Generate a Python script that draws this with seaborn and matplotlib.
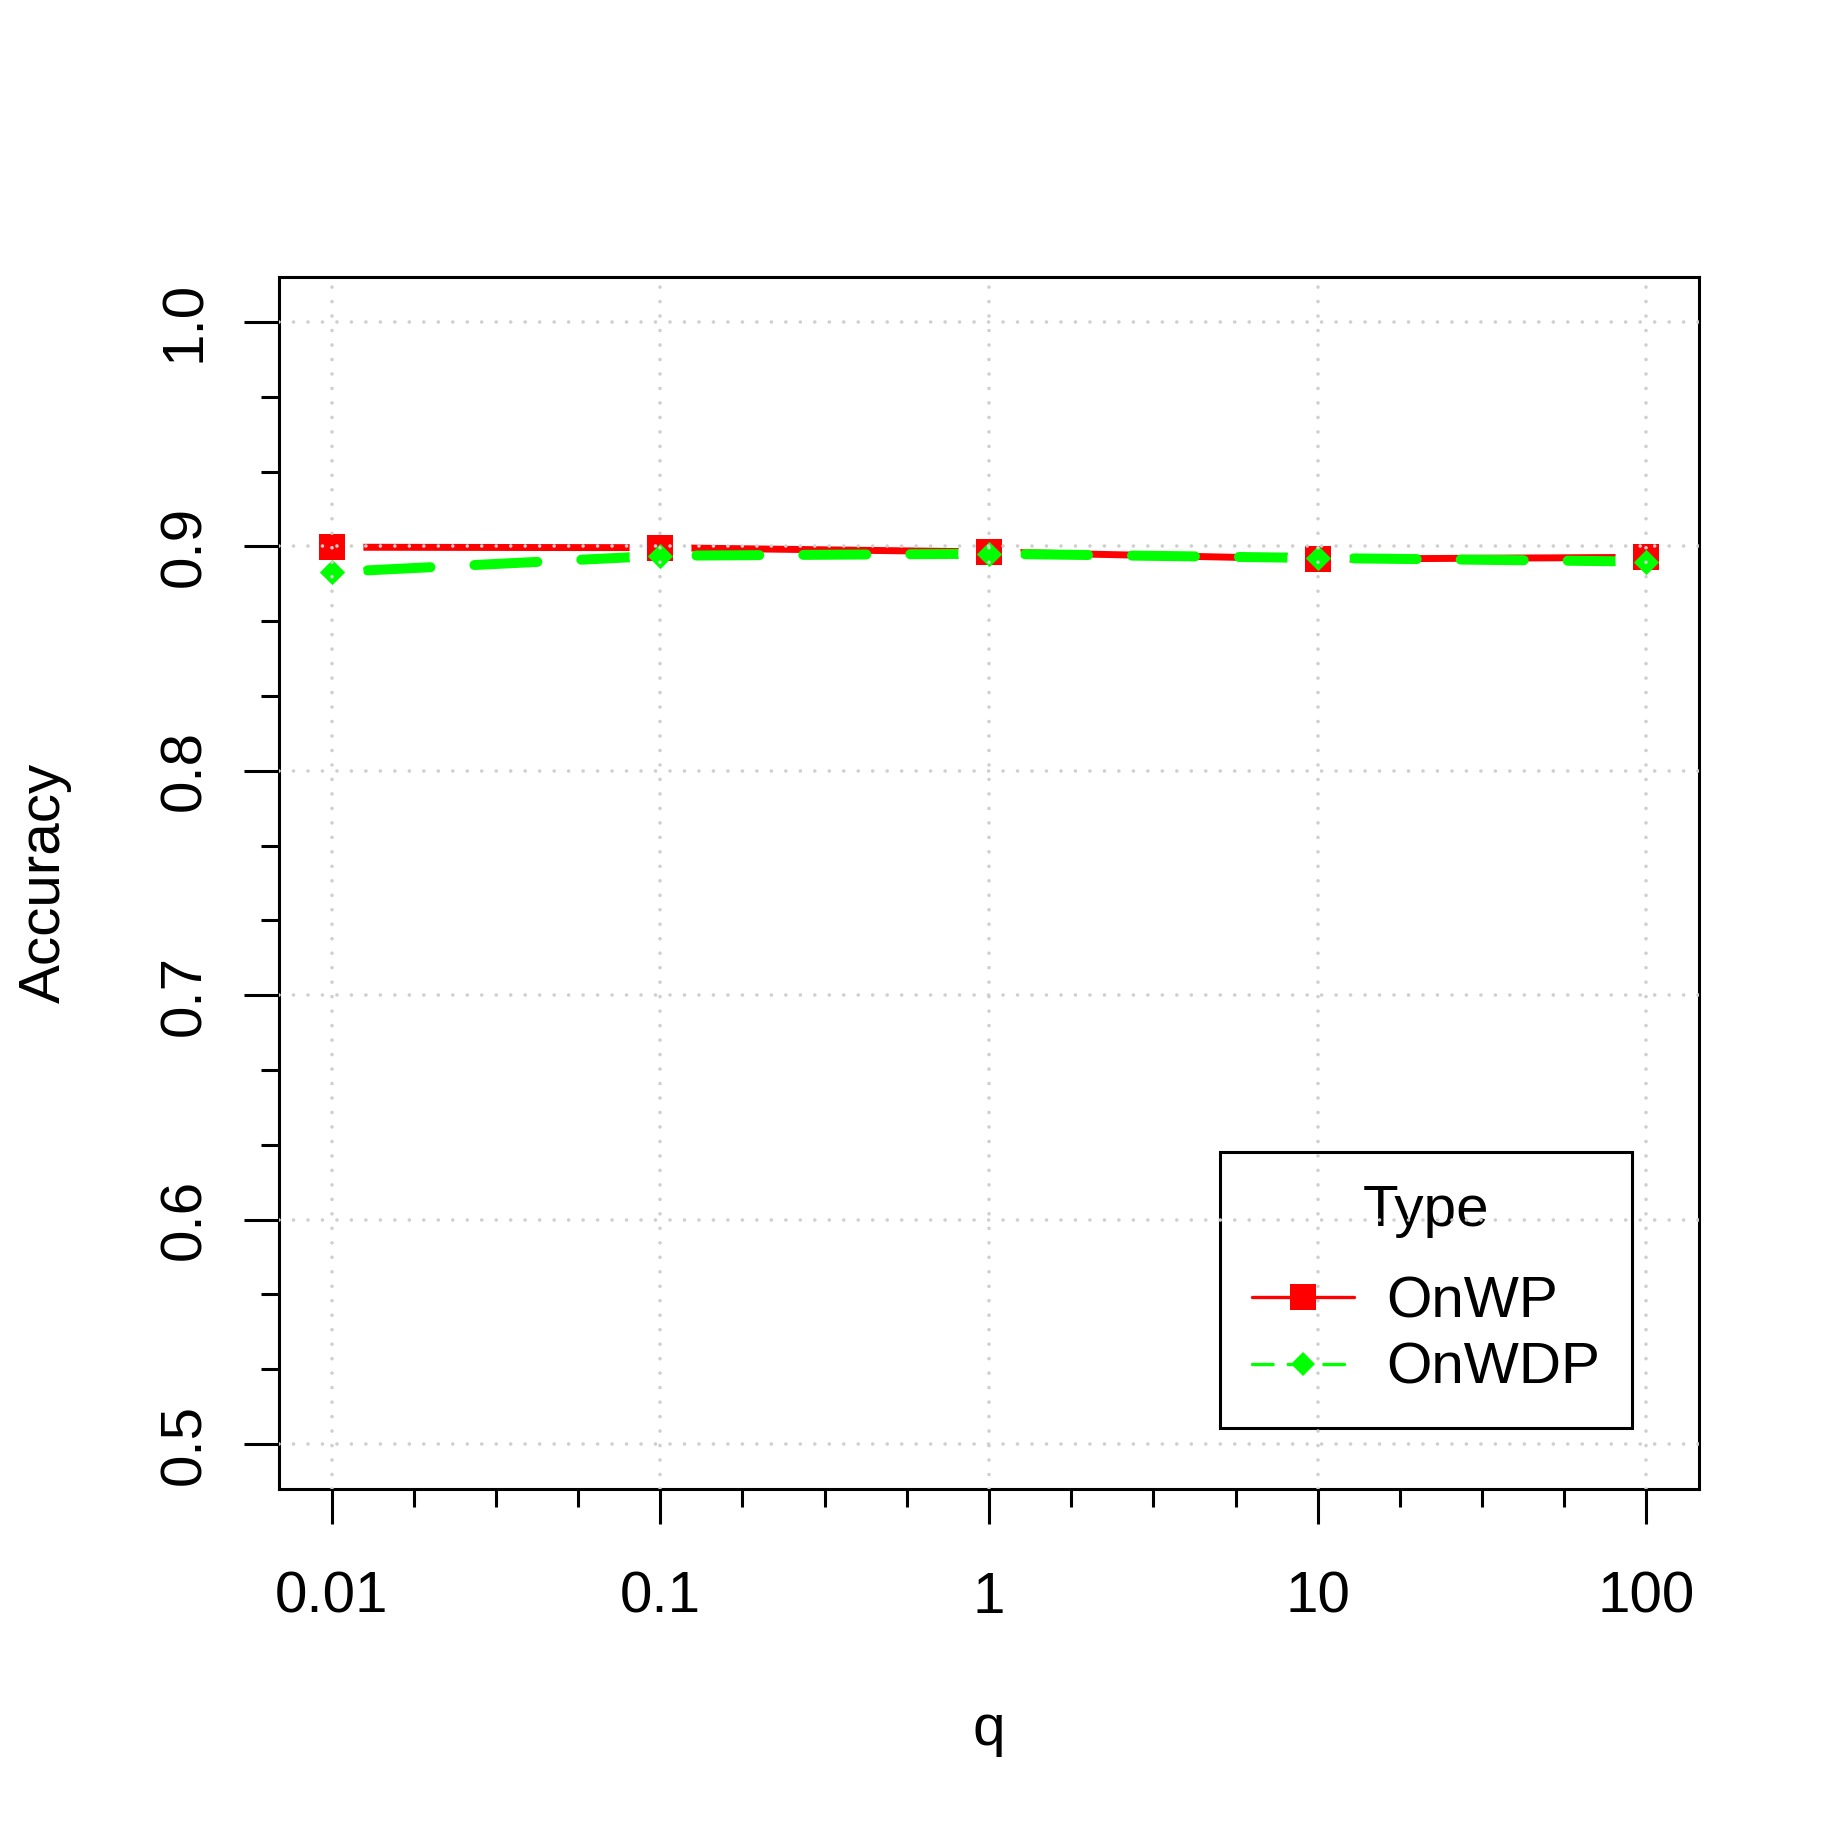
import numpy as np
import pandas as pd
import matplotlib
matplotlib.use("Agg")
import matplotlib.pyplot as plt
import seaborn as sns
from matplotlib.lines import Line2D
from matplotlib.ticker import FixedLocator, NullFormatter

# ---------------- data ----------------
q_values = [0.01, 0.1, 1, 10, 100]
q_labels = ["0.01", "0.1", "1", "10", "100"]
onwp = [0.8996, 0.8994, 0.8975, 0.8943, 0.8951]
onwdp = [0.8885, 0.8958, 0.8967, 0.8948, 0.8932]
series_names = ["OnWP", "OnWDP"]
y_ticks = [0.5, 0.6, 0.7, 0.8, 0.9, 1.0]
y_tick_labels = ["0.5", "0.6", "0.7", "0.8", "0.9", "1.0"]
x_label = "q"
y_label = "Accuracy"
legend_title = "Type"

RED = "#ff0000"
GREEN = "#00ff00"
GRID = "#cfcfcf"

sns.set_style("ticks")
plt.rcParams["font.family"] = ["Liberation Sans", "DejaVu Sans"]
plt.rcParams["text.color"] = "black"
plt.rcParams["axes.labelcolor"] = "black"
plt.rcParams["xtick.color"] = "black"
plt.rcParams["ytick.color"] = "black"
plt.rcParams["axes.edgecolor"] = "black"

# segment table (each consecutive pair is one segment, like R type="b")
rows = []
for name, vals in zip(series_names, [onwp, onwdp]):
    for i in range(len(q_values) - 1):
        rows.append((name, i, q_values[i], vals[i]))
        rows.append((name, i, q_values[i + 1], vals[i + 1]))
seg = pd.DataFrame(rows, columns=["Type", "seg", "q", "acc"])
pts = pd.DataFrame({"q": q_values * 2, "acc": onwp + onwdp,
                    "Type": [series_names[0]] * 5 + [series_names[1]] * 5})

fig = plt.figure(figsize=(18.41, 18.36), dpi=100)
ax = fig.add_axes([279 / 1841, 1 - 1489 / 1836, 1420 / 1841, 1212 / 1836])
ax.set_xscale("log")

# lines
sns.lineplot(data=seg[seg.Type == "OnWP"], x="q", y="acc", units="seg",
             estimator=None, color=RED, lw=5.0, solid_capstyle="round",
             ax=ax, legend=False, zorder=2)
sns.lineplot(data=seg[seg.Type == "OnWDP"], x="q", y="acc", units="seg",
             estimator=None, color=GREEN, lw=7.2,
             linestyle=(7.1, (6.3, 4.4)), dash_capstyle="round",
             ax=ax, legend=False, zorder=2.1)
# gaps around points (R type="b")
sns.scatterplot(data=pts, x="q", y="acc", s=1990, color="white",
                linewidth=0, ax=ax, legend=False, zorder=3)
# markers
sns.scatterplot(data=pts[pts.Type == "OnWP"], x="q", y="acc", marker="s",
                s=350, color=RED, linewidth=0, ax=ax, legend=False, zorder=4)
sns.scatterplot(data=pts[pts.Type == "OnWDP"], x="q", y="acc", marker="D",
                s=165, color=GREEN, linewidth=0, ax=ax, legend=False, zorder=4.1)

# axes limits and ticks
ax.set_xlim(10 ** -2.16, 10 ** 2.16)
ax.set_ylim(0.48, 1.02)
ax.set_xticks(q_values)
ax.set_xticklabels(q_labels)
ax.xaxis.set_minor_locator(FixedLocator([10 ** (e / 4) for e in range(-8, 9) if e % 4]))
ax.xaxis.set_minor_formatter(NullFormatter())
ax.set_yticks(y_ticks)
ax.set_yticklabels(y_tick_labels, rotation=90, va="center")
ax.yaxis.set_minor_locator(FixedLocator([0.5 + k / 30 for k in range(16) if k % 3]))

ax.tick_params(axis="both", which="major", length=25, width=2.2, color="black",
               labelcolor="black", labelsize=42, direction="out")
ax.tick_params(axis="both", which="minor", length=13, width=2.2, color="black",
               direction="out")
ax.tick_params(axis="x", which="major", pad=34)
ax.tick_params(axis="y", which="major", pad=23)
for s in ax.spines.values():
    s.set_linewidth(2.2)
    s.set_color("black")
    s.set_visible(True)

# grid on top (dotted light gray)
for xv in q_values:
    ax.axvline(xv, color=GRID, lw=2.6, ls=(0, (0.01, 4.0)), dash_capstyle="round", zorder=6)
for yv in y_ticks:
    ax.axhline(yv, color=GRID, lw=2.6, ls=(0, (0.01, 4.0)), dash_capstyle="round", zorder=6)

ax.set_xlabel(x_label, fontsize=42, color="black")
ax.set_ylabel(y_label, fontsize=42, color="black")
ax.xaxis.set_label_coords(0.5, -0.1766)
ax.yaxis.set_label_coords(-0.1458, 0.5)

# legend
h1 = Line2D([], [], color=RED, lw=2.4, marker="s", markersize=18.7, mew=0)
h2 = Line2D([], [], color=GREEN, lw=2.4, ls=(0, (6.2, 4.5)), dash_capstyle="round",
            marker="D", markersize=12.7, mew=0)
leg = ax.legend([h1, h2], series_names, title=legend_title, fontsize=42,
                title_fontsize=42, loc="lower right",
                bbox_to_anchor=(0.9528, 0.0503), borderaxespad=0,
                handlelength=1.75, handletextpad=0.55, borderpad=0.55,
                labelspacing=0.22, frameon=True, fancybox=False,
                edgecolor="black", facecolor="white", framealpha=1)
leg.get_frame().set_linewidth(2.2)
leg._legend_box.sep = 27
leg.set_zorder(5)

fig.savefig("out.png", dpi=100, facecolor="white")
